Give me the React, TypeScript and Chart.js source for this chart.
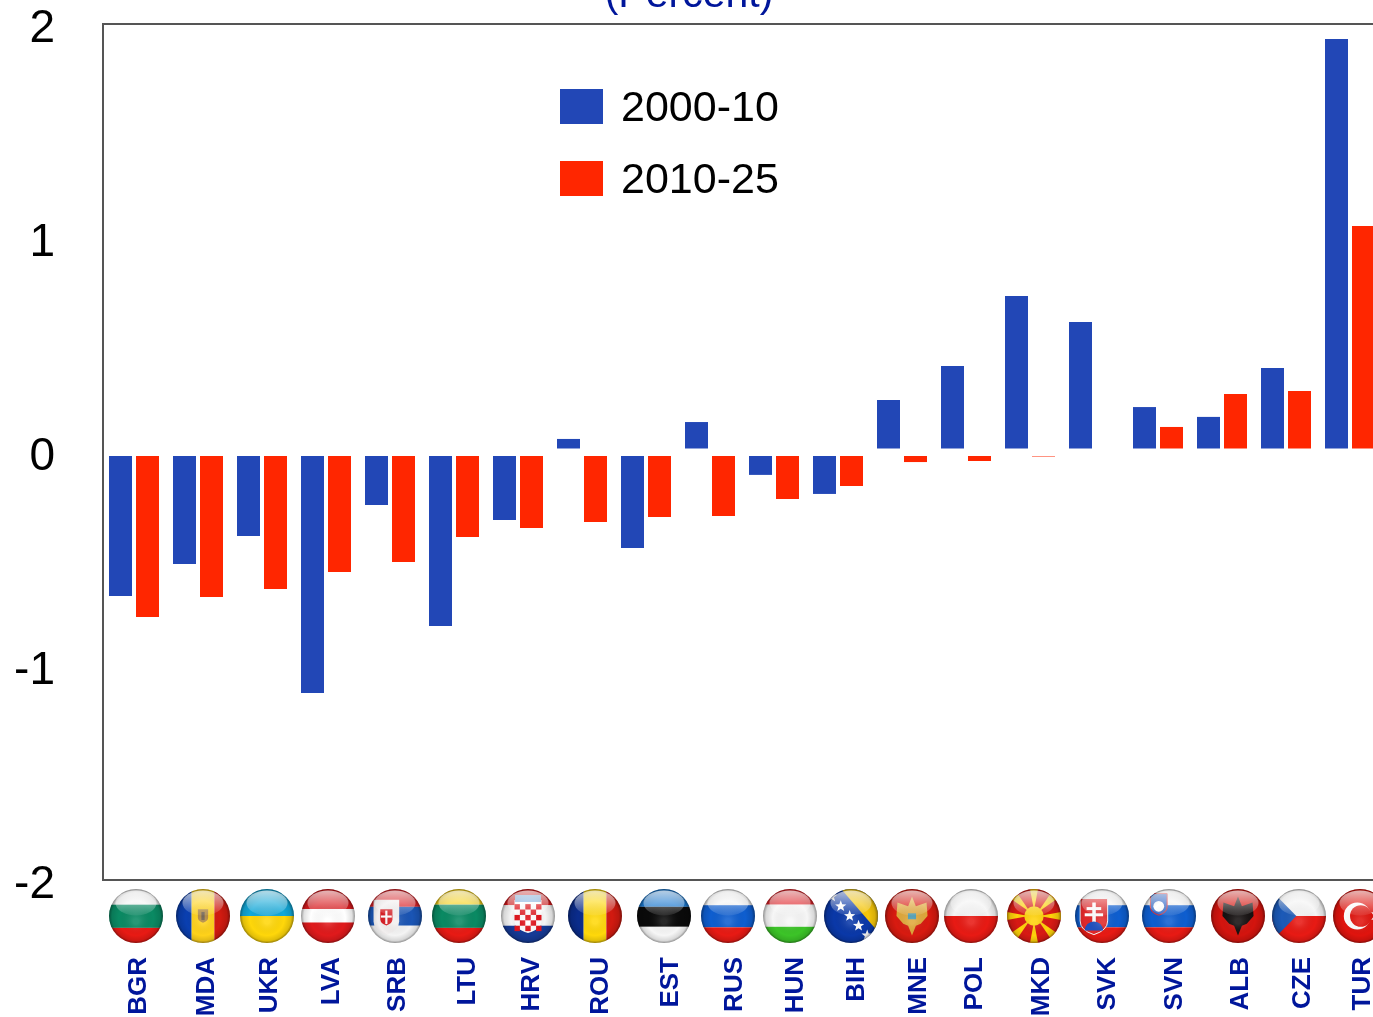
import React, { useEffect, useRef } from "react";
import { Chart, registerables } from "chart.js";

Chart.register(...registerables);

const categories = ["BGR","MDA","UKR","LVA","SRB","LTU","HRV","ROU","EST","RUS","HUN","BIH","MNE","POL","MKD","SVK","SVN","ALB","CZE","TUR"];
const series2000 = [-0.673,-0.523,-0.393,-1.126,-0.248,-0.813,-0.318,0.061,-0.449,0.14,-0.107,-0.196,0.243,0.402,0.729,0.607,0.21,0.164,0.393,1.93];
const series2010 = [-0.771,-0.678,-0.64,-0.561,-0.514,-0.397,-0.355,-0.327,-0.304,-0.299,-0.22,-0.159,-0.047,-0.042,-0.021,0,0.117,0.271,0.285,1.056];
const labelNudgePx = [2.7,6,5.7,3,5.7,11,11,16,22,22,19,16,14,6,9,11,14,16,14,10];
const flagNudgePx = [2,5,5,2,5,5,10,13,18,18,16,13,10,5,4,8,11,16,13,10];
const BLUE = "#2247b6";
const RED = "#ff2600";
const NAVY = "#00169b";
const FONT = "'Liberation Sans', Arial, sans-serif";
const OFFSET_Y = 60;
const CATEGORY_PX = 64;
// The bar ruler measures the closest pair of ticks, so the group width is set against that gap.
const closestTickGap = Math.min(...labelNudgePx.slice(1).map((n, i) => CATEGORY_PX + n - labelNudgePx[i]));
const CATEGORY_PERCENT = 54 / closestTickGap;
const BAR_PERCENT = 23 / 27;

const flagBands: Record<string, { dir: "h" | "v"; bands: [string, number][] }> = {
  BGR: { dir: "h", bands: [["#f4f4f4", 0.29], ["#0a8a63", 0.72], ["#e81a14", 1]] },
  MDA: { dir: "v", bands: [["#0a3fb0", 0.29], ["#ffd21a", 0.71], ["#d21a10", 1]] },
  UKR: { dir: "h", bands: [["#12a8d8", 0.5], ["#ffd70a", 1]] },
  LVA: { dir: "h", bands: [["#d8181c", 0.37], ["#ffffff", 0.62], ["#e01a1c", 1]] },
  SRB: { dir: "h", bands: [["#dd2228", 0.33], ["#1a55b5", 0.68], ["#f4f4f4", 1]] },
  LTU: { dir: "h", bands: [["#f7d21a", 0.29], ["#0a8a63", 0.72], ["#e81a14", 1]] },
  HRV: { dir: "h", bands: [["#d81a1c", 0.3], ["#f4f4f4", 0.68], ["#153a96", 1]] },
  ROU: { dir: "v", bands: [["#0a2c8c", 0.29], ["#ffd80a", 0.71], ["#d21a10", 1]] },
  EST: { dir: "h", bands: [["#1a78d0", 0.33], ["#0a0a0a", 0.7], ["#f6f6f6", 1]] },
  RUS: { dir: "h", bands: [["#f4f4f4", 0.3], ["#0e5ed0", 0.71], ["#e81a14", 1]] },
  HUN: { dir: "h", bands: [["#e0242a", 0.29], ["#f6f6f6", 0.7], ["#3cc428", 1]] },
  BIH: { dir: "h", bands: [["#0a38a8", 1]] },
  MNE: { dir: "h", bands: [["#d81a10", 1]] },
  POL: { dir: "h", bands: [["#f4f4f4", 0.5], ["#e81a14", 1]] },
  MKD: { dir: "h", bands: [["#d81a14", 1]] },
  SVK: { dir: "h", bands: [["#f4f4f4", 0.3], ["#0e5ed0", 0.71], ["#e81a14", 1]] },
  SVN: { dir: "h", bands: [["#f4f4f4", 0.3], ["#0e5ed0", 0.71], ["#e81a14", 1]] },
  ALB: { dir: "h", bands: [["#d4140e", 1]] },
  CZE: { dir: "h", bands: [["#f4f4f4", 0.5], ["#e81a14", 1]] },
  TUR: { dir: "h", bands: [["#e0140e", 1]] },
};

function star(ctx: CanvasRenderingContext2D, x: number, y: number, r: number, color: string, rot = 0) {
  ctx.beginPath();
  for (let i = 0; i < 10; i++) {
    const a = rot - Math.PI / 2 + (i * Math.PI) / 5;
    const q = i % 2 ? r * 0.42 : r;
    ctx.lineTo(x + Math.cos(a) * q, y + Math.sin(a) * q);
  }
  ctx.closePath();
  ctx.fillStyle = color;
  ctx.fill();
}

function shield(ctx: CanvasRenderingContext2D, x: number, y: number, w: number, h: number, fill: string, stroke?: string) {
  ctx.beginPath();
  ctx.moveTo(x - w / 2, y - h / 2);
  ctx.lineTo(x + w / 2, y - h / 2);
  ctx.lineTo(x + w / 2, y + h * 0.12);
  ctx.quadraticCurveTo(x + w / 2, y + h * 0.38, x, y + h / 2);
  ctx.quadraticCurveTo(x - w / 2, y + h * 0.38, x - w / 2, y + h * 0.12);
  ctx.closePath();
  ctx.fillStyle = fill;
  ctx.fill();
  if (stroke) {
    ctx.strokeStyle = stroke;
    ctx.lineWidth = 1;
    ctx.stroke();
  }
}

function eagle(ctx: CanvasRenderingContext2D, x: number, y: number, s: number, color: string) {
  ctx.fillStyle = color;
  ctx.beginPath();
  ctx.moveTo(x, y - s);
  ctx.lineTo(x + s * 0.2, y - s * 0.5);
  ctx.lineTo(x + s * 0.75, y - s * 0.7);
  ctx.lineTo(x + s * 0.8, y);
  ctx.lineTo(x + s * 0.45, y + s * 0.4);
  ctx.lineTo(x + s * 0.2, y + s * 0.5);
  ctx.lineTo(x, y + s);
  ctx.lineTo(x - s * 0.2, y + s * 0.5);
  ctx.lineTo(x - s * 0.45, y + s * 0.4);
  ctx.lineTo(x - s * 0.8, y);
  ctx.lineTo(x - s * 0.75, y - s * 0.7);
  ctx.lineTo(x - s * 0.2, y - s * 0.5);
  ctx.closePath();
  ctx.fill();
}

function drawDetail(ctx: CanvasRenderingContext2D, code: string, x: number, y: number, r: number) {
  if (code === "MDA") {
    shield(ctx, x, y, r * 0.38, r * 0.5, "#b0873c");
    ctx.fillStyle = "#6a5a48";
    ctx.fillRect(x - r * 0.06, y - r * 0.15, r * 0.12, r * 0.3);
  } else if (code === "SRB") {
    shield(ctx, x - r * 0.32, y + r * 0.05, r * 0.95, r * 1.3, "#f2efef");
    shield(ctx, x - r * 0.32, y + r * 0.05, r * 0.45, r * 0.6, "#d81e24");
    ctx.fillStyle = "#fff";
    ctx.fillRect(x - r * 0.36, y - r * 0.2, r * 0.08, r * 0.5);
    ctx.fillRect(x - r * 0.52, y - r * 0.02, r * 0.4, r * 0.08);
  } else if (code === "HRV") {
    const s = r * 0.2;
    const x0 = x - 2.5 * s;
    const y0 = y - 2.2 * s;
    shield(ctx, x, y + r * 0.02, 5 * s, r * 1.22, "#ffffff");
    for (let i = 0; i < 5; i++) {
      for (let j = 0; j < 5; j++) {
        if ((i + j) % 2 === 0) {
          ctx.fillStyle = "#e0141c";
          ctx.fillRect(x0 + i * s, y0 + j * s, s, s);
        }
      }
    }
    ctx.fillStyle = "#7fb0e0";
    ctx.fillRect(x - r * 0.48, y - r * 0.78, r * 0.96, r * 0.26);
  } else if (code === "BIH") {
    ctx.beginPath();
    ctx.moveTo(x - r * 0.45, y - r * 1.1);
    ctx.lineTo(x + r * 1.1, y + r * 0.7);
    ctx.lineTo(x + r * 1.1, y - r * 1.1);
    ctx.closePath();
    ctx.fillStyle = "#f5c60a";
    ctx.fill();
    [[-0.72, -0.72], [-0.38, -0.36], [-0.05, 0.0], [0.28, 0.36], [0.6, 0.72]].forEach(([a, b]) =>
      star(ctx, x + a * r, y + b * r, r * 0.22, "#ffffff"),
    );
  } else if (code === "MNE") {
    eagle(ctx, x, y, r * 0.72, "#e0a83a");
    ctx.fillStyle = "#4a9ab0";
    ctx.fillRect(x - r * 0.15, y - r * 0.1, r * 0.3, r * 0.22);
  } else if (code === "MKD") {
    ctx.fillStyle = "#ffd20a";
    for (let i = 0; i < 8; i++) {
      const a = (i * Math.PI) / 4;
      const da = 0.15;
      ctx.beginPath();
      ctx.moveTo(x + Math.cos(a) * r * 0.2, y + Math.sin(a) * r * 0.2);
      ctx.lineTo(x + Math.cos(a - da) * r * 1.1, y + Math.sin(a - da) * r * 1.1);
      ctx.lineTo(x + Math.cos(a + da) * r * 1.1, y + Math.sin(a + da) * r * 1.1);
      ctx.closePath();
      ctx.fill();
    }
    ctx.beginPath();
    ctx.arc(x, y, r * 0.36, 0, Math.PI * 2);
    ctx.fill();
  } else if (code === "SVK") {
    const sx = x - r * 0.3;
    const sy = y + r * 0.02;
    shield(ctx, sx, sy, r * 1.02, r * 1.34, "#e0282a", "#f8f8f8");
    ctx.fillStyle = "#fff";
    ctx.fillRect(sx - r * 0.06, sy - r * 0.52, r * 0.13, r * 0.75);
    ctx.fillRect(sx - r * 0.27, sy - r * 0.35, r * 0.54, r * 0.11);
    ctx.fillRect(sx - r * 0.34, sy - r * 0.12, r * 0.68, r * 0.11);
    ctx.fillStyle = "#1e50c0";
    ctx.beginPath();
    ctx.arc(sx, sy + r * 0.52, r * 0.34, Math.PI, 0);
    ctx.fill();
  } else if (code === "SVN") {
    shield(ctx, x - r * 0.38, y - r * 0.43, r * 0.62, r * 0.8, "#2a62c8", "#e83030");
    ctx.fillStyle = "#fff";
    ctx.beginPath();
    ctx.arc(x - r * 0.38, y - r * 0.36, r * 0.2, 0, Math.PI * 2);
    ctx.fill();
  } else if (code === "ALB") {
    eagle(ctx, x, y, r * 0.72, "#151010");
  } else if (code === "CZE") {
    ctx.beginPath();
    ctx.moveTo(x - r * 1.1, y - r * 1.02);
    ctx.lineTo(x - r * 0.1, y);
    ctx.lineTo(x - r * 1.1, y + r * 1.02);
    ctx.closePath();
    ctx.fillStyle = "#1c5ab8";
    ctx.fill();
  } else if (code === "TUR") {
    ctx.fillStyle = "#fff";
    ctx.beginPath();
    ctx.arc(x - r * 0.1, y, r * 0.5, 0, Math.PI * 2);
    ctx.fill();
    ctx.fillStyle = "#e0140e";
    ctx.beginPath();
    ctx.arc(x + r * 0.03, y, r * 0.4, 0, Math.PI * 2);
    ctx.fill();
    star(ctx, x + r * 0.62, y, r * 0.25, "#fff", Math.PI / 2);
  }
}

function drawFlag(ctx: CanvasRenderingContext2D, code: string, x: number, y: number, r: number) {
  const design = flagBands[code];
  ctx.save();
  ctx.beginPath();
  ctx.arc(x, y, r, 0, Math.PI * 2);
  ctx.clip();
  let start = 0;
  design.bands.forEach(([color, end]) => {
    ctx.fillStyle = color;
    if (design.dir === "h") ctx.fillRect(x - r, y - r + start * 2 * r, 2 * r, (end - start) * 2 * r);
    else ctx.fillRect(x - r + start * 2 * r, y - r, (end - start) * 2 * r, 2 * r);
    start = end;
  });
  drawDetail(ctx, code, x, y, r);
  const shade = ctx.createRadialGradient(x, y + r * 0.2, r * 0.1, x, y, r);
  shade.addColorStop(0, "rgba(255,255,255,0.12)");
  shade.addColorStop(0.6, "rgba(0,0,0,0)");
  shade.addColorStop(0.88, "rgba(0,0,0,0.12)");
  shade.addColorStop(1, "rgba(0,0,0,0.42)");
  ctx.fillStyle = shade;
  ctx.fillRect(x - r, y - r, 2 * r, 2 * r);
  const gloss = ctx.createLinearGradient(x, y - r, x, y - r * 0.02);
  gloss.addColorStop(0, "rgba(255,255,255,0.72)");
  gloss.addColorStop(1, "rgba(255,255,255,0.08)");
  ctx.fillStyle = gloss;
  ctx.beginPath();
  ctx.ellipse(x, y - r * 0.48, r * 0.76, r * 0.46, 0, 0, Math.PI * 2);
  ctx.fill();
  ctx.restore();
}

// Legend swatch: the blank strip under the colour lines it up with the taller legend text.
function makeSwatch(color: string) {
  const c = document.createElement("canvas");
  c.width = 43;
  c.height = 40;
  const g = c.getContext("2d") as CanvasRenderingContext2D;
  g.fillStyle = color;
  g.fillRect(0, 0, 43, 35);
  return c;
}

const flagsPlugin = {
  id: "flags",
  afterDraw(chart: any) {
    const ctx = chart.ctx;
    const xScale = chart.scales.x;
    const area = chart.chartArea;
    ctx.save();
    ctx.strokeStyle = "#555";
    ctx.lineWidth = 2;
    ctx.beginPath();
    ctx.moveTo(area.left + 1, area.top - 1);
    ctx.lineTo(area.left + 1, area.bottom + 1);
    ctx.stroke();
    ctx.restore();
    categories.forEach((code, i) => {
      drawFlag(ctx, code, xScale.getPixelForValue(i) + flagNudgePx[i], area.bottom + 36, 27);
    });
  },
};

const placementPlugin = {
  id: "placement",
  afterLayout(chart: any) {
    const legend = chart.legend;
    const w = legend.width;
    const h = legend.height;
    legend.left = 534.5;
    legend.right = 534.5 + w;
    legend.top = 118.5;
    legend.bottom = 118.5 + h;
    chart.titleBlock.left = 0;
    chart.titleBlock.right = 1378;
  },
};

export default function App() {
  const ref = useRef<HTMLCanvasElement>(null);
  useEffect(() => {
    const swatches = [makeSwatch(BLUE), makeSwatch(RED)];
    const chart = new Chart(ref.current as HTMLCanvasElement, {
      type: "bar",
      data: {
        labels: categories,
        datasets: [
          { label: "2000-10", data: series2000, backgroundColor: BLUE, borderWidth: 0, barPercentage: BAR_PERCENT, categoryPercentage: CATEGORY_PERCENT },
          { label: "2010-25", data: series2010, backgroundColor: RED, borderWidth: 0, barPercentage: BAR_PERCENT, categoryPercentage: CATEGORY_PERCENT },
        ],
      },
      options: {
        responsive: false,
        animation: false,
        devicePixelRatio: 1,
        layout: { padding: { left: 0, right: 18, top: 0, bottom: 0 } },
        plugins: {
          tooltip: { enabled: false },
          title: {
            display: true,
            text: "(Percent)",
            color: NAVY,
            font: { family: FONT, size: 41, weight: "normal", lineHeight: 1.2 },
            padding: { top: 31, bottom: 3.8 },
          },
          legend: {
            display: true,
            position: "chartArea",
            align: "start",
            labels: {
              usePointStyle: true,
              boxWidth: 36,
              boxHeight: 35,
              padding: 29,
              color: "#000",
              font: { family: FONT, size: 43 },
              generateLabels(c: any) {
                const items = (Chart.defaults.plugins.legend.labels as any).generateLabels(c);
                items.forEach((item: any, i: number) => {
                  item.pointStyle = swatches[i];
                });
                return items;
              },
            },
          },
        },
        scales: {
          x: {
            type: "category",
            grid: { display: false, drawTicks: false },
            border: { display: false },
            afterBuildTicks(axis: any) {
              axis.ticks = categories.map((_, i) => ({ value: i + labelNudgePx[i] / CATEGORY_PX }));
            },
            afterFit(axis: any) {
              axis.height = 137;
              axis.paddingLeft = 0;
              axis.paddingRight = 0;
            },
            ticks: {
              autoSkip: false,
              minRotation: 90,
              maxRotation: 90,
              padding: 77,
              labelOffset: 2.5,
              color: NAVY,
              font: { family: FONT, size: 26, weight: "bold" },
              callback: (_v: any, i: number) => categories[i],
            },
          },
          y: {
            min: -2,
            max: 2,
            afterFit(axis: any) {
              axis.width = 102;
              axis.paddingTop = 0;
              axis.paddingBottom = 0;
            },
            border: { display: false },
            grid: {
              z: 1,
              drawTicks: false,
              color: (c: any) => (c.tick.value === 0 ? "#ffffff" : Math.abs(c.tick.value) === 2 ? "#555" : "rgba(0,0,0,0)"),
              lineWidth: (c: any) => (c.tick.value === 0 ? 7 : 2),
            },
            ticks: {
              stepSize: 1,
              padding: 47,
              labelOffset: 5,
              color: "#000",
              font: { family: FONT, size: 46 },
              callback: (v: any) => String(v),
            },
          },
        },
      },
      plugins: [placementPlugin, flagsPlugin],
    } as any);
    return () => chart.destroy();
  }, []);
  return (
    <div style={{ position: "absolute", left: 0, top: 0, width: 1373, height: 1017, overflow: "hidden", background: "#fff" }}>
      <canvas ref={ref} width={1400} height={1017 + OFFSET_Y} style={{ position: "absolute", left: 0, top: -OFFSET_Y, display: "block" }} />
    </div>
  );
}
